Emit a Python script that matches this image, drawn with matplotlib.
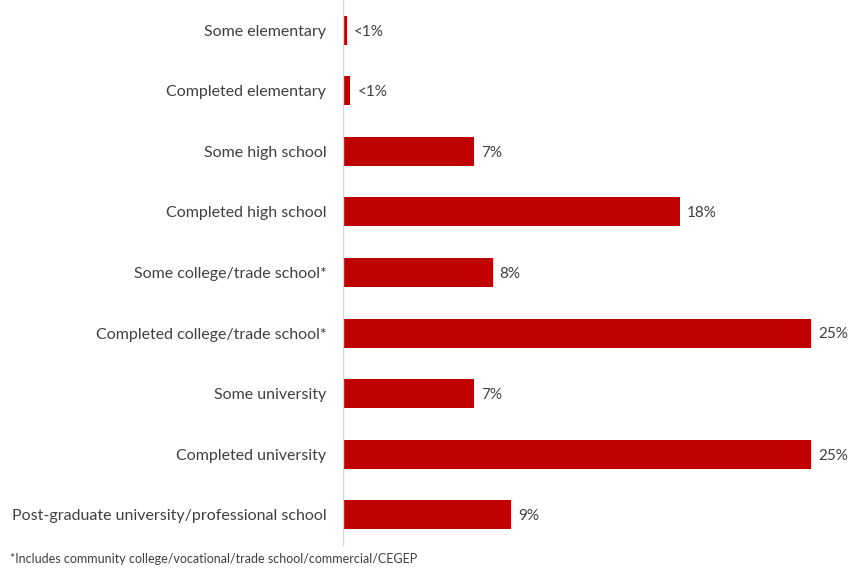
import matplotlib
matplotlib.use("Agg")
import matplotlib.pyplot as plt

# education levels, top to bottom
categories = [
    "Some elementary",
    "Completed elementary",
    "Some high school",
    "Completed high school",
    "Some college/trade school*",
    "Completed college/trade school*",
    "Some university",
    "Completed university",
    "Post-graduate university/professional school",
]
shares = [0.2, 0.4, 7, 18, 8, 25, 7, 25, 9]
value_labels = ["<1%", "<1%", "7%", "18%", "8%", "25%", "7%", "25%", "9%"]
footnote = "*Includes community college/vocational/trade school/commercial/CEGEP"

plt.rcParams["font.family"] = ["Lato", "DejaVu Sans"]
text_color = "#404040"

fig = plt.figure(figsize=(8.5, 5.69), dpi=100)
ax = fig.add_axes([343 / 850, 1 - 545 / 569, (811 - 343) / 850, 545 / 569])

y = list(range(len(categories)))
ax.barh(y, shares, height=0.48, color="#C00000")

for yi, v, lab in zip(y, shares, value_labels):
    ax.annotate(lab, (v, yi), xytext=(5, -1), textcoords="offset points",
                va="center", ha="left", fontsize=11, color=text_color)

ax.set_xlim(0, 25)
ax.set_ylim(len(categories) - 0.5, -0.5)
ax.set_yticks(y)
ax.set_yticklabels(categories, fontsize=11.5, color=text_color)
ax.tick_params(axis="y", length=0, pad=12)
ax.set_xticks([])

for side in ["top", "right", "bottom"]:
    ax.spines[side].set_visible(False)
ax.spines["left"].set_color("#d9d9d9")
ax.spines["left"].set_linewidth(1)

fig.text(10 / 850, 1 - 559 / 569, footnote, fontsize=9, color=text_color,
         ha="left", va="center")

fig.savefig("out.png", dpi=100)
